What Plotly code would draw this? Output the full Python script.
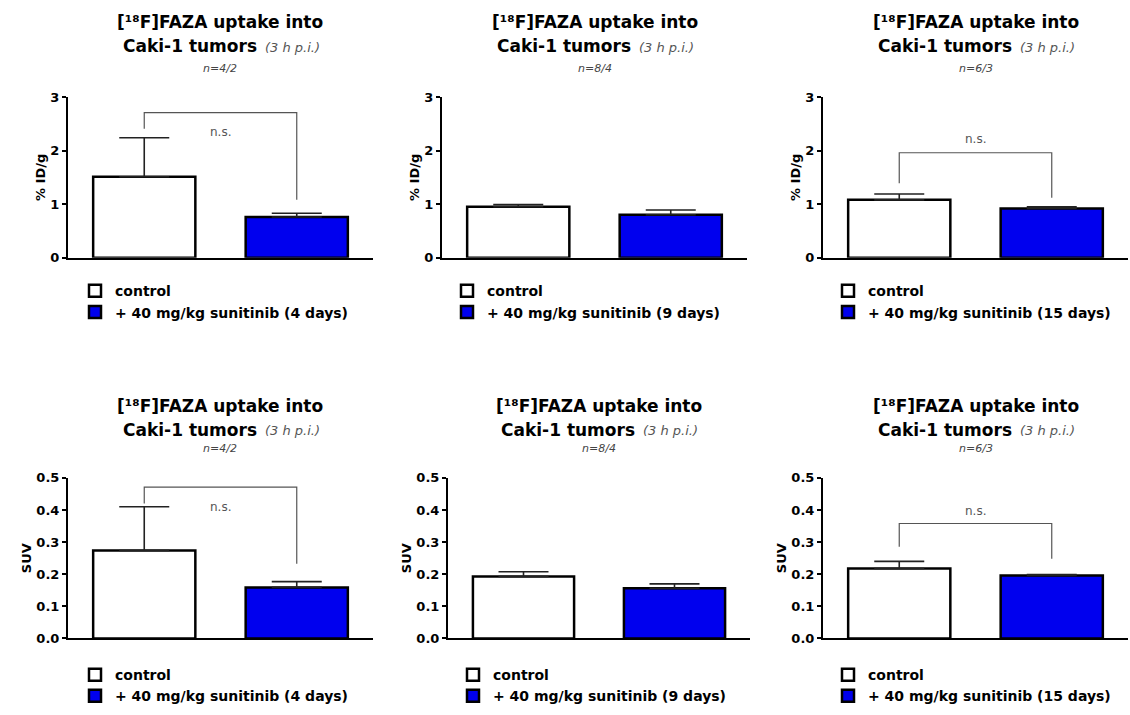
import plotly.graph_objects as go

W, H = 1130, 715

# ---------------- data ----------------
groups = ["control", "sunitinib"]
durations = ["4 days", "9 days", "15 days"]
n_labels = ["n=4/2", "n=8/4", "n=6/3"]

pct_control = [1.51, 0.95, 1.08]
pct_control_err = [0.73, 0.04, 0.11]
pct_sunitinib = [0.76, 0.80, 0.92]
pct_sunitinib_err = [0.07, 0.09, 0.03]

suv_control = [0.274, 0.193, 0.218]
suv_control_err = [0.136, 0.015, 0.022]
suv_sunitinib = [0.159, 0.156, 0.196]
suv_sunitinib_err = [0.018, 0.014, 0.003]

# significance brackets: (top, left leg end, right leg end, label y) or None
pct_brackets = [(2.71, 2.41, 1.08, 2.34), None, (1.96, 1.39, 1.12, 2.21)]
suv_brackets = [(0.471, 0.42, 0.233, 0.41), None, (0.358, 0.286, 0.248, 0.396)]

pct_ticks = [0, 1, 2, 3]
suv_ticks = [0.0, 0.1, 0.2, 0.3, 0.4, 0.5]

# ---------------- layout geometry (pixels) ----------------
panel_x = [(68, 373), (442, 747), (823, 1128), (68, 373), (448, 750), (823, 1128)]
row_y = [(92, 256), (481, 645)]
title_y = [(15, 40, 63), (408, 432, 451)]
legend_x = [75, 447, 828, 75, 453, 828]
legend_top = [274, 666]
title_split = 38  # px right of centre where bold part of line 2 ends

BLUE = "#0000EE"
FONT = "DejaVu Sans"


def px_x(p):
    return p / W


def px_y(p):
    return 1 - p / H


fig = go.Figure()
annotations = []
layout = {}

panels = []
for i in range(3):
    panels.append(dict(ctrl=pct_control[i], ctrl_err=pct_control_err[i],
                       sun=pct_sunitinib[i], sun_err=pct_sunitinib_err[i],
                       bracket=pct_brackets[i], ticks=pct_ticks, rng=[0, 3],
                       ytitle="% ID/g", fmt="d", row=0, col=i))
for i in range(3):
    panels.append(dict(ctrl=suv_control[i], ctrl_err=suv_control_err[i],
                       sun=suv_sunitinib[i], sun_err=suv_sunitinib_err[i],
                       bracket=suv_brackets[i], ticks=suv_ticks, rng=[0, 0.5],
                       ytitle="SUV", fmt=".1f", row=1, col=i))

for k, p in enumerate(panels):
    idx = k + 1
    xa = "x" if idx == 1 else f"x{idx}"
    ya = "y" if idx == 1 else f"y{idx}"
    lg = "legend" if idx == 1 else f"legend{idx}"
    col = p["col"]
    row = p["row"]

    fig.add_trace(go.Bar(
        x=[groups[0]], y=[p["ctrl"]], xaxis=xa, yaxis=ya, legend=lg,
        name="control", legendgroup=f"c{idx}",
        marker=dict(color="white", line=dict(color="black", width=2.5)),
        width=0.67,
        error_y=dict(type="data", array=[p["ctrl_err"]], arrayminus=[0],
                     symmetric=False, color="#222", thickness=1.6, width=25),
        hoverinfo="skip",
    ))
    fig.add_trace(go.Bar(
        x=[groups[1]], y=[p["sun"]], xaxis=xa, yaxis=ya, legend=lg,
        name=f"+ 40 mg/kg sunitinib ({durations[col]})", legendgroup=f"s{idx}",
        marker=dict(color=BLUE, line=dict(color="black", width=2.5)),
        width=0.67,
        error_y=dict(type="data", array=[p["sun_err"]], arrayminus=[0],
                     symmetric=False, color="#222", thickness=1.6, width=25),
        hoverinfo="skip",
    ))

    b = p["bracket"]
    if b is not None:
        top, left_end, right_end, label_y = b
        fig.add_trace(go.Scatter(
            x=[groups[0], groups[0], groups[1], groups[1]],
            y=[left_end, top, top, right_end],
            xaxis=xa, yaxis=ya, mode="lines",
            line=dict(color="#555", width=1.2),
            showlegend=False, hoverinfo="skip",
        ))
        annotations.append(dict(
            x=0.5, y=label_y, xref=xa, yref=ya, text="n.s.", showarrow=False,
            font=dict(family=FONT, size=12, color="#555"),
            xanchor="center", yanchor="middle",
        ))

    x0, x1 = panel_x[k]
    y0, y1 = row_y[row]
    layout["xaxis" if idx == 1 else f"xaxis{idx}"] = dict(
        domain=[px_x(x0), px_x(x1)], anchor=ya, type="category",
        categoryorder="array", categoryarray=groups,
        range=[-0.5, 1.5], showticklabels=False, ticks="",
        showline=True, linecolor="black", linewidth=2,
        showgrid=False, zeroline=False, fixedrange=True,
    )
    layout["yaxis" if idx == 1 else f"yaxis{idx}"] = dict(
        domain=[px_y(y1), px_y(y0)], anchor=xa, range=p["rng"],
        tickvals=p["ticks"], tickformat=p["fmt"],
        ticks="outside", ticklen=4, tickwidth=2, tickcolor="black",
        showline=True, linecolor="black", linewidth=2,
        showgrid=False, zeroline=False, fixedrange=True,
        tickfont=dict(family=FONT, size=13, color="black", weight="bold"),
        title=dict(text=p["ytitle"], standoff=2,
                   font=dict(family=FONT, size=13, color="black", weight="bold")),
    )

    cxp = (x0 + x1) / 2
    cx = px_x(cxp)
    ty1, ty2, ty3 = title_y[row]
    annotations.append(dict(
        x=cx, y=px_y(ty1), xref="paper", yref="paper", showarrow=False,
        text="[¹⁸F]FAZA uptake into",
        font=dict(family=FONT, size=17, color="black", weight="bold"),
        xanchor="center", yanchor="middle",
    ))
    annotations.append(dict(
        x=px_x(cxp + title_split), y=px_y(ty2), xref="paper", yref="paper",
        showarrow=False, text="Caki-1 tumors",
        font=dict(family=FONT, size=17, color="black", weight="bold"),
        xanchor="right", yanchor="middle",
    ))
    annotations.append(dict(
        x=px_x(cxp + title_split + 4), y=px_y(ty2 + 1), xref="paper", yref="paper",
        showarrow=False, text="(3 h p.i.)",
        font=dict(family=FONT, size=13, color="#555", style="italic"),
        xanchor="left", yanchor="middle",
    ))
    annotations.append(dict(
        x=cx, y=px_y(ty3), xref="paper", yref="paper", showarrow=False,
        text=n_labels[col],
        font=dict(family=FONT, size=11, color="#444", style="italic"),
        xanchor="center", yanchor="middle",
    ))

    layout[lg] = dict(
        x=px_x(legend_x[k]), y=px_y(legend_top[row]),
        xanchor="left", yanchor="top",
        font=dict(family=FONT, size=14, color="black", weight="bold"),
        bgcolor="rgba(0,0,0,0)", tracegroupgap=4, itemwidth=30,
        traceorder="normal", orientation="v",
    )

fig.update_layout(
    width=W, height=H,
    margin=dict(l=0, r=0, t=0, b=0),
    paper_bgcolor="white", plot_bgcolor="white",
    barmode="overlay", showlegend=True, hovermode=False,
    annotations=annotations,
    **layout,
)

fig.write_html(
    "out.html",
    config={"displayModeBar": False},
    post_script="document.body.style.margin='0';document.body.style.overflow='hidden';",
)
